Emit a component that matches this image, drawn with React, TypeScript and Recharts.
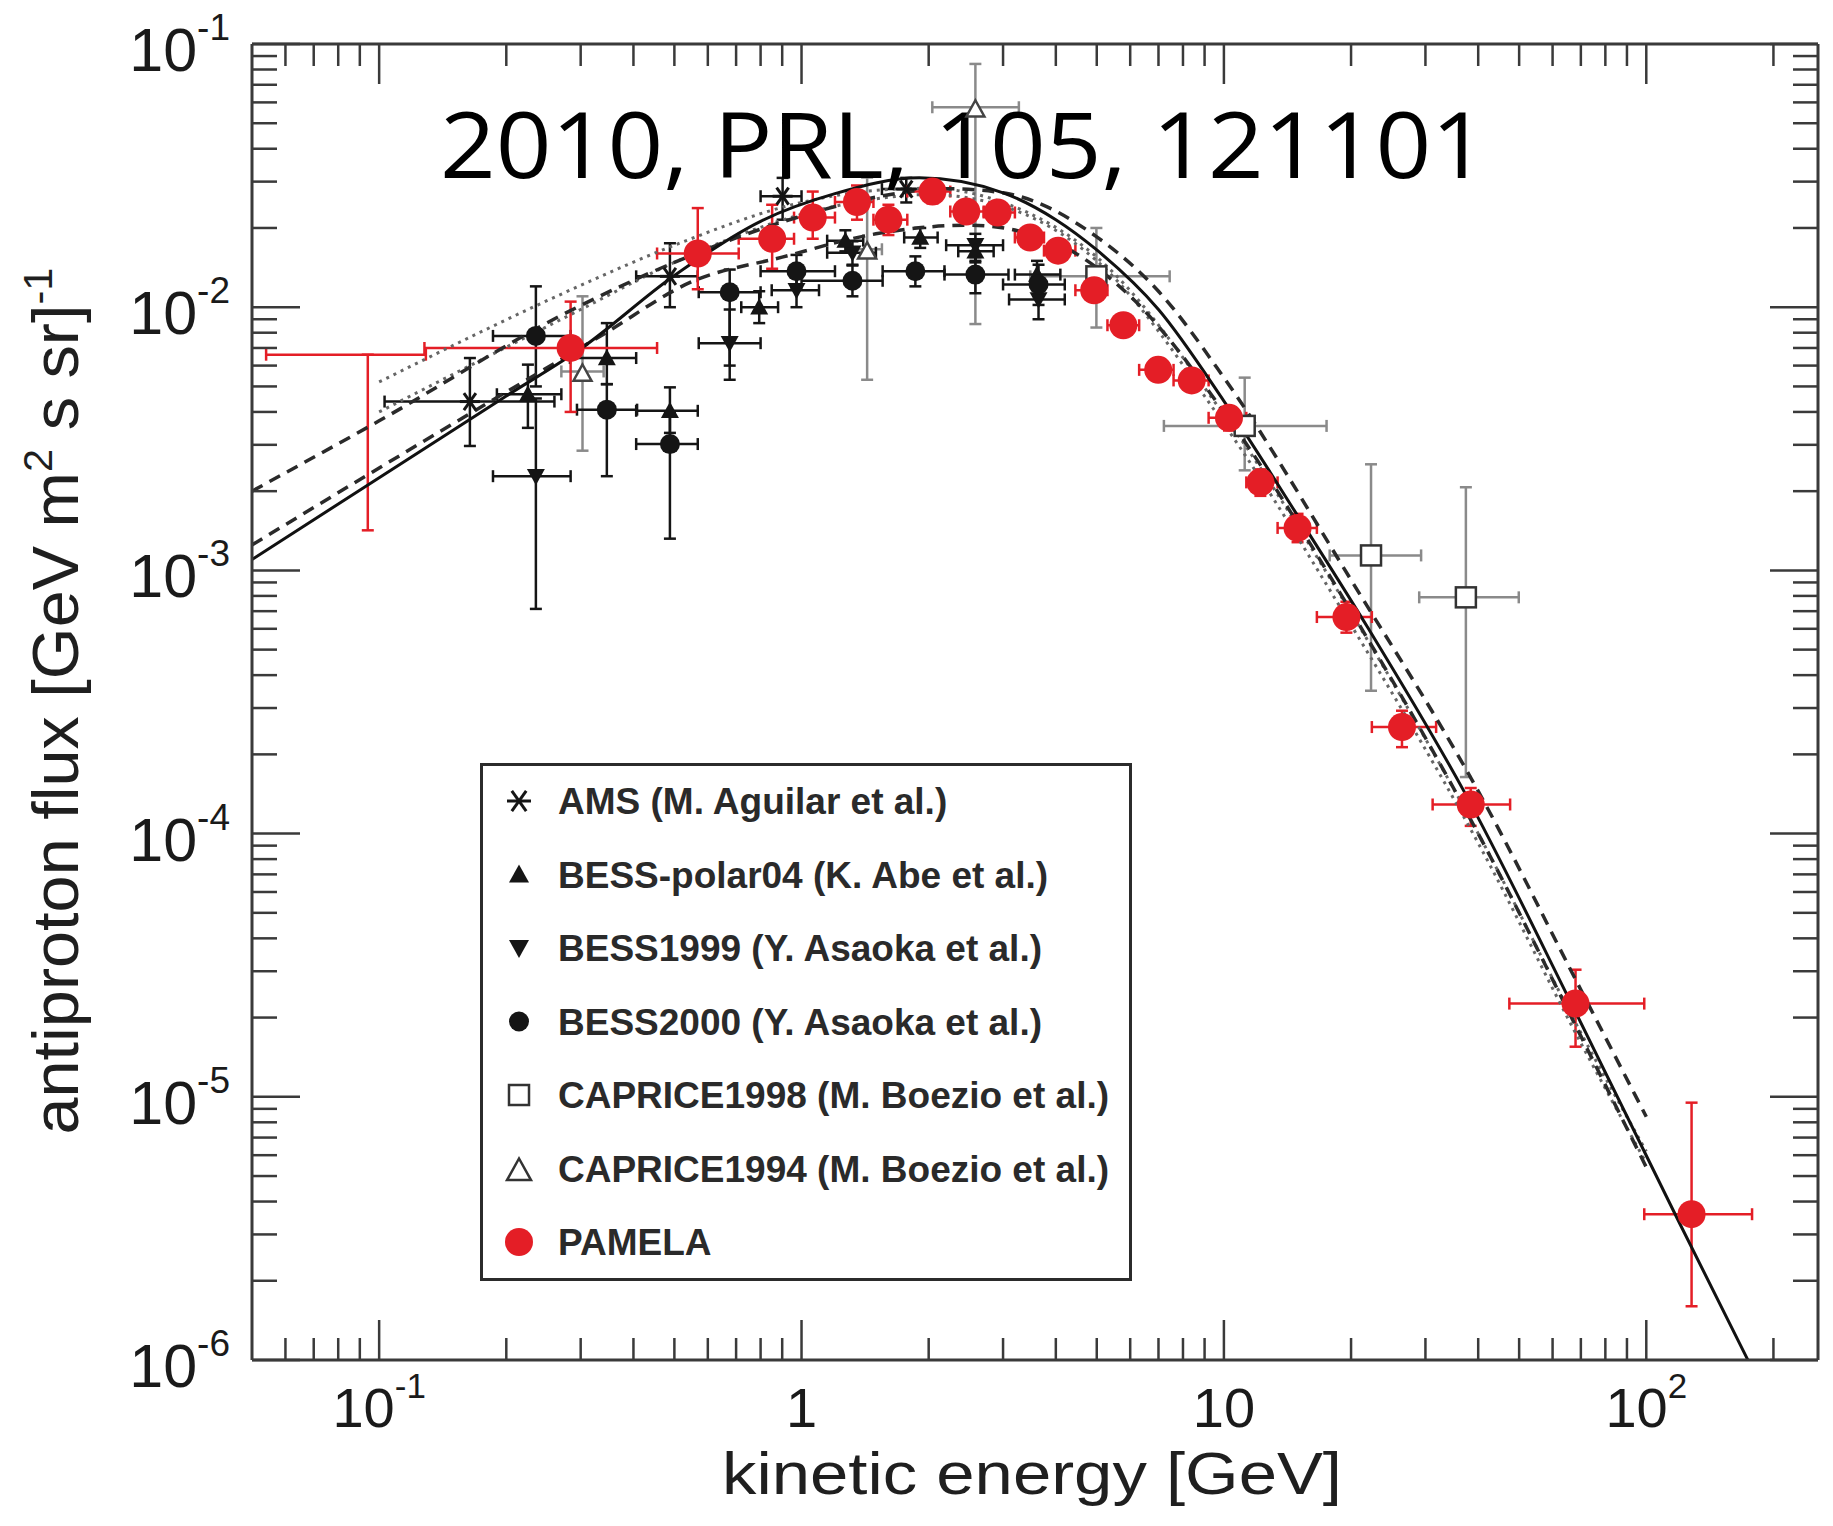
import React from "react";
import { ComposedChart, Scatter, Line, XAxis, YAxis, ErrorBar, Label } from "recharts";

// rows: [energy, flux, energyLow, energyHigh, fluxLow, fluxHigh]
const PAMELA = [
  [0.094, 0.0066, 0.054, 0.129, 0.00142, 0.0066],
  [0.284, 0.007, 0.128, 0.455, 0.004, 0.0105],
  [0.568, 0.016, 0.455, 0.71, 0.0117, 0.0238],
  [0.852, 0.0182, 0.71, 0.96, 0.014, 0.0245],
  [1.063, 0.0219, 0.96, 1.2, 0.0182, 0.0275],
  [1.353, 0.0251, 1.2, 1.48, 0.0215, 0.029],
  [1.606, 0.0215, 1.48, 1.78, 0.0188, 0.0245],
  [2.042, 0.0275, 1.78, 2.25, 0.0248, 0.0302],
  [2.455, 0.0231, 2.25, 2.7, 0.021, 0.0253],
  [2.913, 0.0229, 2.7, 3.2, 0.0209, 0.025],
  [3.478, 0.0184, 3.2, 3.75, 0.0168, 0.02],
  [4.05, 0.0164, 3.75, 4.45, 0.015, 0.0179],
  [4.93, 0.0116, 4.45, 5.3, 0.0106, 0.0127],
  [5.78, 0.00854, 5.3, 6.3, 0.0078, 0.0094],
  [6.99, 0.00578, 6.3, 7.6, 0.0053, 0.0064],
  [8.39, 0.00527, 7.6, 9.2, 0.0048, 0.0058],
  [10.28, 0.0038, 9.2, 11.3, 0.0034, 0.0042],
  [12.2, 0.00216, 11.3, 13.4, 0.00192, 0.00242],
  [14.94, 0.00145, 13.4, 16.6, 0.00128, 0.00164],
  [19.5, 0.000665, 16.6, 22.4, 0.00058, 0.00076],
  [26.4, 0.000254, 22.4, 31.8, 0.000213, 0.000293],
  [38.4, 0.000129, 31.2, 47.6, 0.000107, 0.000149],
  [68, 2.26e-5, 47.4, 98.9, 1.55e-5, 3.04e-5],
  [128, 3.58e-6, 98.9, 178, 1.6e-6, 9.5e-6],
];

const AMS = [
  [0.164, 0.00438, 0.103, 0.26, 0.00297, 0.00641],
  [0.488, 0.0131, 0.406, 0.568, 0.01, 0.0175],
  [0.902, 0.0264, 0.8, 1.0, 0.0215, 0.031],
  [1.77, 0.0281, 1.55, 2.0, 0.025, 0.031],
];

const BESS_POLAR04 = [
  [0.225, 0.00467, 0.19, 0.27, 0.00348, 0.00605],
  [0.346, 0.00641, 0.283, 0.406, 0.0051, 0.0087],
  [0.488, 0.00404, 0.406, 0.568, 0.00333, 0.00496],
  [0.794, 0.01, 0.72, 0.88, 0.0087, 0.0115],
  [1.27, 0.0179, 1.15, 1.4, 0.0163, 0.0196],
  [1.91, 0.0184, 1.75, 2.1, 0.0168, 0.02],
  [2.58, 0.0163, 2.35, 2.85, 0.0148, 0.018],
  [3.61, 0.0133, 3.2, 4.1, 0.0118, 0.015],
];

const BESS1999 = [
  [0.235, 0.00228, 0.186, 0.284, 0.000714, 0.0045],
  [0.676, 0.0073, 0.571, 0.8, 0.0053, 0.0098],
  [0.973, 0.0116, 0.85, 1.1, 0.01, 0.0134],
  [1.32, 0.0161, 1.15, 1.5, 0.0145, 0.0178],
  [2.58, 0.0172, 2.2, 3.0, 0.015, 0.019],
  [3.64, 0.0107, 3.1, 4.2, 0.009, 0.0125],
];

const BESS2000 = [
  [0.235, 0.00778, 0.186, 0.284, 0.005, 0.012],
  [0.346, 0.00408, 0.294, 0.408, 0.00228, 0.0051],
  [0.488, 0.00302, 0.406, 0.568, 0.00132, 0.00396],
  [0.676, 0.0114, 0.571, 0.8, 0.006, 0.0139],
  [0.973, 0.0137, 0.8, 1.2, 0.0118, 0.0158],
  [1.32, 0.0126, 1.0, 1.556, 0.011, 0.0144],
  [1.86, 0.0137, 1.556, 2.18, 0.012, 0.0156],
  [2.58, 0.0133, 2.18, 3.09, 0.0113, 0.0155],
  [3.64, 0.0122, 3.0, 4.2, 0.0102, 0.0145],
];

const CAPRICE1998 = [
  [4.99, 0.0131, 3.48, 7.44, 0.00837, 0.02],
  [11.2, 0.00354, 7.21, 17.5, 0.0024, 0.0054],
  [22.3, 0.00114, 17.8, 29.3, 0.000349, 0.00253],
  [37.4, 0.00079, 29.0, 49.9, 0.000164, 0.00207],
];

const CAPRICE1994 = [
  [0.303, 0.0057, 0.27, 0.34, 0.00285, 0.011],
  [1.43, 0.0166, 1.3, 1.55, 0.0053, 0.0311],
  [2.58, 0.0575, 2.04, 3.27, 0.00863, 0.084],
];

// model curves: [energy, flux]
const CURVE_SOLID = [
  [0.05, 0.0011], [0.1, 0.00225], [0.2, 0.0046], [0.3, 0.00695], [0.5, 0.0132],
  [0.8, 0.0212], [1.2, 0.027], [1.9, 0.031], [3.0, 0.0272], [4.0, 0.0215],
  [5.0, 0.0165], [7.0, 0.0098], [10, 0.0044], [15, 0.0016], [22, 0.0006],
  [37, 0.000145], [68, 2.1e-5], [120, 3.3e-6], [174, 1.0e-6],
];
const CURVE_DASHED_UP = [
  [0.05, 0.002], [0.1, 0.0037], [0.28, 0.0096], [0.5, 0.0148], [1.0, 0.0222],
  [1.5, 0.0262], [2.2, 0.0282], [3.0, 0.0272], [5.0, 0.0185], [7.0, 0.0115],
  [10, 0.0054], [20, 0.00092], [40, 0.000145], [70, 2.55e-5], [100, 8.4e-6],
];
const CURVE_DASHED_LOW = [
  [0.05, 0.00125], [0.1, 0.00245], [0.34, 0.0079], [0.55, 0.0125], [0.9, 0.0155],
  [1.5, 0.019], [2.5, 0.0205], [4.0, 0.0175], [6.0, 0.011], [10, 0.004],
  [20, 0.0007], [40, 0.0001], [70, 1.7e-5], [100, 5.4e-6],
];
const CURVE_DOTTED_UP = [
  [0.1, 0.0052], [0.3, 0.0121], [0.5, 0.0172], [1.0, 0.025], [1.5, 0.0278],
  [2.0, 0.0283], [3.0, 0.025], [5.0, 0.0155], [10, 0.0039], [20, 0.00069],
  [40, 0.0001], [70, 1.75e-5], [100, 6.2e-6],
];
const CURVE_DOTTED_LOW = [
  [0.1, 0.004], [0.3, 0.0098], [0.5, 0.0148], [1.0, 0.0225], [1.5, 0.0258],
  [2.0, 0.0268], [3.0, 0.0242], [5.0, 0.015], [10, 0.0036], [20, 0.00062],
  [40, 9.2e-5], [70, 1.6e-5], [100, 5.6e-6],
];

const X_DOMAIN = [0.05, 255];
const Y_DOMAIN = [1e-6, 0.1];
const X_TICKS = [
  0.06, 0.07, 0.08, 0.09, 0.1, 0.2, 0.3, 0.4, 0.5, 0.6, 0.7, 0.8, 0.9,
  1, 2, 3, 4, 5, 6, 7, 8, 9, 10, 20, 30, 40, 50, 60, 70, 80, 90, 100, 200,
];
const Y_TICKS = [
  1e-6, 2e-6, 3e-6, 4e-6, 5e-6, 6e-6, 7e-6, 8e-6, 9e-6,
  1e-5, 2e-5, 3e-5, 4e-5, 5e-5, 6e-5, 7e-5, 8e-5, 9e-5,
  1e-4, 2e-4, 3e-4, 4e-4, 5e-4, 6e-4, 7e-4, 8e-4, 9e-4,
  1e-3, 2e-3, 3e-3, 4e-3, 5e-3, 6e-3, 7e-3, 8e-3, 9e-3,
  0.01, 0.02, 0.03, 0.04, 0.05, 0.06, 0.07, 0.08, 0.09, 0.1,
];
const X_TICK_LABELS: Record<string, string[]> = {
  "-1": ["10", "-1"],
  "0": ["1", ""],
  "1": ["10", ""],
  "2": ["10", "2"],
};
const LEGEND_LABELS = [
  "AMS (M. Aguilar et al.)",
  "BESS-polar04 (K. Abe et al.)",
  "BESS1999 (Y. Asaoka et al.)",
  "BESS2000 (Y. Asaoka et al.)",
  "CAPRICE1998 (M. Boezio et al.)",
  "CAPRICE1994 (M. Boezio et al.)",
  "PAMELA",
];

const FONT = "'Liberation Sans', Arial, Helvetica, sans-serif";
const AXIS = "#3a3a3a";
const RED = "#e41e26";
const INK = "#151515";
const GREY = "#8a8a8a";
const W = 1817;
const H = 1510;
const LEFT = 244;

const rows = (pts: number[][]) =>
  pts.map(([x, y, xlo, xhi, ylo, yhi]) => ({
    x,
    y,
    ex: [x - xlo, xhi - x],
    ey: [y - ylo, yhi - y],
  }));
const curve = (pts: number[][]) => pts.map(([x, y]) => ({ x, y }));

const decadeOf = (v: number) => {
  const l = Math.log10(v);
  const r = Math.round(l);
  return Math.abs(l - r) < 1e-6 ? r : null;
};

// marker drawers
const asterisk = (cx: number, cy: number, r = 11) => (
  <g stroke={INK} strokeWidth={3}>
    <line x1={cx - r} y1={cy} x2={cx + r} y2={cy} />
    <line x1={cx - r * 0.6} y1={cy - r * 0.85} x2={cx + r * 0.6} y2={cy + r * 0.85} />
    <line x1={cx - r * 0.6} y1={cy + r * 0.85} x2={cx + r * 0.6} y2={cy - r * 0.85} />
  </g>
);
const triUp = (cx: number, cy: number, s = 10, fill = INK, stroke = "none") => (
  <polygon
    points={`${cx},${cy - s} ${cx - s},${cy + s * 0.8} ${cx + s},${cy + s * 0.8}`}
    fill={fill}
    stroke={stroke}
    strokeWidth={2.5}
  />
);
const triDown = (cx: number, cy: number, s = 10) => (
  <polygon points={`${cx},${cy + s} ${cx - s},${cy - s * 0.8} ${cx + s},${cy - s * 0.8}`} fill={INK} />
);
const dot = (cx: number, cy: number, r = 10, fill = INK) => <circle cx={cx} cy={cy} r={r} fill={fill} />;
const openSquare = (cx: number, cy: number, s = 10) => (
  <rect x={cx - s} y={cy - s} width={s * 2} height={s * 2} fill="#fff" stroke="#333" strokeWidth={2.5} />
);

const LEGEND_MARKERS = [
  (cx: number, cy: number) => asterisk(cx, cy, 12),
  (cx: number, cy: number) => triUp(cx, cy, 10),
  (cx: number, cy: number) => triDown(cx, cy, 10),
  (cx: number, cy: number) => dot(cx, cy, 10),
  (cx: number, cy: number) => openSquare(cx, cy, 10),
  (cx: number, cy: number) => triUp(cx, cy + 2, 12, "#fff", "#333"),
  (cx: number, cy: number) => dot(cx, cy, 14, RED),
];

const BottomTick = ({ x, y, payload }: any) => {
  const e = decadeOf(payload.value);
  const len = e === null ? 22 : 40;
  const lab = e === null ? null : X_TICK_LABELS[String(e)];
  return (
    <g>
      <line x1={x} x2={x} y1={y} y2={y - len} stroke={AXIS} strokeWidth={2.5} />
      {lab && (
        <text x={x} y={y + 67} textAnchor="middle" fontFamily={FONT} fontSize={56} fill="#1a1a1a">
          {lab[0]}
          {lab[1] && (
            <tspan dy={-29} fontSize={35}>
              {lab[1]}
            </tspan>
          )}
        </text>
      )}
    </g>
  );
};

const TopTick = ({ x, y, payload }: any) => {
  const len = decadeOf(payload.value) === null ? 22 : 40;
  return <line x1={x} x2={x} y1={y} y2={y + len} stroke={AXIS} strokeWidth={2.5} />;
};

const LeftTick = ({ x, y, payload }: any) => {
  const e = decadeOf(payload.value);
  const len = e === null ? 25 : 48;
  return (
    <g>
      <line x1={x} x2={x + len} y1={y} y2={y} stroke={AXIS} strokeWidth={2.5} />
      {e !== null && (
        <text x={x - 22} y={y + 27} textAnchor="end" fontFamily={FONT} fontSize={61} fill="#1a1a1a">
          10
          <tspan dy={-31} fontSize={37}>
            {String(e)}
          </tspan>
        </text>
      )}
    </g>
  );
};

const RightTick = ({ x, y, payload }: any) => {
  const len = decadeOf(payload.value) === null ? 25 : 48;
  return <line x1={x} x2={x - len} y1={y} y2={y} stroke={AXIS} strokeWidth={2.5} />;
};

const renderXTitle = () => (
  <text
    x={1024}
    y={1486}
    textAnchor="middle"
    fontFamily={FONT}
    fontSize={60}
    fill="#1f1f1f"
    textLength={620}
    lengthAdjust="spacingAndGlyphs"
  >
    kinetic energy [GeV]
  </text>
);

const renderYTitle = () => (
  <text
    x={70}
    y={693}
    transform="rotate(-90 70 693)"
    textAnchor="middle"
    fontFamily={FONT}
    fontSize={64}
    fill="#1f1f1f"
    textLength={867}
    lengthAdjust="spacingAndGlyphs"
  >
    antiproton flux [GeV m
    <tspan dy={-26} fontSize={40}>
      2
    </tspan>
    <tspan dy={26}> s sr]</tspan>
    <tspan dy={-26} fontSize={40}>
      -1
    </tspan>
  </text>
);

const renderOverlay = () => (
  <g>
    <text
      x={432}
      y={170}
      fontFamily="'Open Sans', 'DejaVu Sans', sans-serif"
      fontSize={92}
      fill="#000"
      textLength={1047}
      lengthAdjust="spacingAndGlyphs"
    >
      2010, PRL, 105, 121101
    </text>
    <g transform="translate(472,755)">
      <rect x={1.5} y={1.5} width={649} height={515} fill="#fff" stroke="#2b2b2b" strokeWidth={3} />
      {LEGEND_LABELS.map((label, i) => {
        const cy = 38 + i * 73.5;
        return (
          <g key={label}>
            {LEGEND_MARKERS[i](39, cy)}
            <text x={78} y={cy + 13} fontFamily={FONT} fontWeight="bold" fontSize={37} fill="#2a2a2a">
              {label}
            </text>
          </g>
        );
      })}
    </g>
  </g>
);

const pamelaShape = (p: any) =>
  p.payload && p.payload.x < 0.1 ? <g /> : dot(p.cx, p.cy, 14, RED);

const series = [
  { data: CAPRICE1994, color: GREY, shape: (p: any) => triUp(p.cx, p.cy + 2, 9, "#fff", "#444") },
  { data: CAPRICE1998, color: GREY, shape: (p: any) => openSquare(p.cx, p.cy, 10) },
  { data: AMS, color: INK, shape: (p: any) => asterisk(p.cx, p.cy, 10) },
  { data: BESS1999, color: INK, shape: (p: any) => triDown(p.cx, p.cy, 9) },
  { data: BESS_POLAR04, color: INK, shape: (p: any) => triUp(p.cx, p.cy, 9) },
  { data: BESS2000, color: INK, shape: (p: any) => dot(p.cx, p.cy, 10) },
  { data: PAMELA, color: RED, shape: pamelaShape },
];

const curves = [
  { data: CURVE_DOTTED_UP, stroke: "#666", dash: "3 5", width: 3 },
  { data: CURVE_DOTTED_LOW, stroke: "#666", dash: "3 5", width: 3 },
  { data: CURVE_DASHED_UP, stroke: "#2a2a2a", dash: "12 8", width: 3.5 },
  { data: CURVE_DASHED_LOW, stroke: "#2a2a2a", dash: "12 8", width: 3.5 },
  { data: CURVE_SOLID, stroke: "#111", dash: undefined, width: 3 },
];

export default function App() {
  const axisLine = { stroke: AXIS, strokeWidth: 3 };
  return (
    <div style={{ width: W, height: H, background: "#fff" }}>
      <ComposedChart width={W} height={H} margin={{ top: 0, right: 0, bottom: 0, left: 0 }}>
        <XAxis
          xAxisId="b"
          dataKey="x"
          type="number"
          scale="log"
          domain={X_DOMAIN}
          allowDataOverflow
          ticks={X_TICKS}
          interval={0}
          tick={BottomTick}
          tickLine={false}
          tickSize={0}
          tickMargin={0}
          height={158}
          axisLine={axisLine}
        >
          <Label content={renderXTitle} />
        </XAxis>
        <XAxis
          xAxisId="t"
          orientation="top"
          dataKey="x"
          type="number"
          scale="log"
          domain={X_DOMAIN}
          allowDataOverflow
          ticks={X_TICKS}
          interval={0}
          tick={TopTick}
          tickLine={false}
          tickSize={0}
          tickMargin={0}
          height={36}
          axisLine={axisLine}
        >
          <Label content={renderOverlay} />
        </XAxis>
        <YAxis
          yAxisId="l"
          dataKey="y"
          type="number"
          scale="log"
          domain={Y_DOMAIN}
          allowDataOverflow
          ticks={Y_TICKS}
          interval={0}
          tick={LeftTick}
          tickLine={false}
          tickSize={0}
          tickMargin={0}
          width={LEFT}
          axisLine={axisLine}
        >
          <Label content={renderYTitle} />
        </YAxis>
        <YAxis
          yAxisId="r"
          orientation="right"
          dataKey="y"
          type="number"
          scale="log"
          domain={Y_DOMAIN}
          allowDataOverflow
          ticks={Y_TICKS}
          interval={0}
          tick={RightTick}
          tickLine={false}
          tickSize={0}
          tickMargin={0}
          width={7}
          axisLine={axisLine}
        />

        {series.map((s, i) => (
          <Scatter
            key={`s-${i}`}
            xAxisId="b"
            yAxisId="l"
            data={rows(s.data)}
            dataKey="y"
            shape={s.shape}
            isAnimationActive={false}
          >
            <ErrorBar dataKey="ex" direction="x" width={6} stroke={s.color} strokeWidth={2.5} />
            <ErrorBar dataKey="ey" direction="y" width={6} stroke={s.color} strokeWidth={2.5} />
          </Scatter>
        ))}

        {curves.map((c, i) => (
          <Line
            key={`c-${i}`}
            xAxisId="b"
            yAxisId="l"
            data={curve(c.data)}
            dataKey="y"
            type="monotone"
            stroke={c.stroke}
            strokeWidth={c.width}
            strokeDasharray={c.dash}
            dot={false}
            activeDot={false}
            isAnimationActive={false}
          />
        ))}
      </ComposedChart>
    </div>
  );
}
